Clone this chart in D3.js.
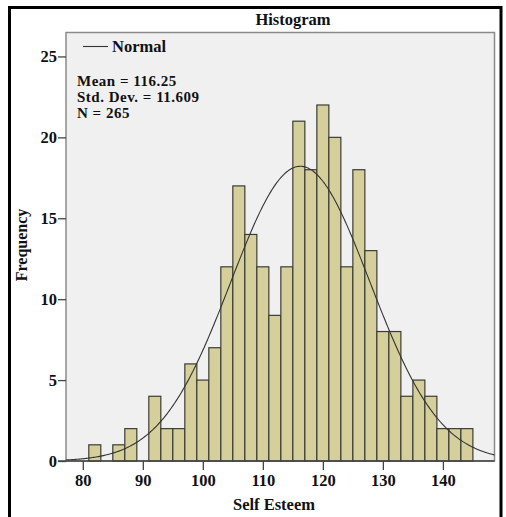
<!DOCTYPE html>
<html>
<head>
<meta charset="utf-8">
<script src="https://cdn.jsdelivr.net/npm/d3@7"></script>
<style>
  html, body { margin: 0; padding: 0; background: #fff; }
  svg text { font-family: "Liberation Serif", "Times New Roman", serif; font-weight: bold; fill: #111; }
</style>
</head>
<body>
<svg id="chart" width="506" height="517"></svg>
<script>
// Bin edges (width 2) and counts of Self Esteem scores
const binStarts = [81, 83, 85, 87, 89, 91, 93, 95, 97, 99, 101, 103, 105, 107, 109, 111,
                   113, 115, 117, 119, 121, 123, 125, 127, 129, 131, 133, 135, 137, 139, 141, 143];
const counts    = [1, 0, 1, 2, 0, 4, 2, 2, 6, 5, 7, 12, 17, 14, 12, 9,
                   12, 21, 18, 22, 20, 12, 18, 13, 8, 8, 4, 5, 4, 2, 2, 2];
const binWidth = 2;
const xTicks = [80, 90, 100, 110, 120, 130, 140];
const yTicks = [0, 5, 10, 15, 20, 25];
const stats = { mean: 116.25, sd: 11.609, n: 265 };
const statLines = ["Mean = 116.25", "Std. Dev. = 11.609", "N = 265"];

const svg = d3.select("#chart");

// outer frame
svg.append("rect")
  .attr("x", 9.5).attr("y", 7.5).attr("width", 491.5).attr("height", 520)
  .attr("fill", "none").attr("stroke", "#000").attr("stroke-width", 3);

const plot = { left: 66, top: 32.5, right: 494.5, bottom: 461 };

const x = d3.scaleLinear().domain([77.2, 148.6]).range([plot.left, plot.right]);
const y = d3.scaleLinear().domain([0, 26.48]).range([plot.bottom, plot.top]);

// plot background
svg.append("rect")
  .attr("x", plot.left).attr("y", plot.top)
  .attr("width", plot.right - plot.left).attr("height", plot.bottom - plot.top)
  .attr("fill", "#f0f0f0").attr("stroke", "#8a8a8a").attr("stroke-width", 1.5);

// bars
svg.append("g").selectAll("rect")
  .data(binStarts.map((s, i) => ({ s, c: counts[i] })).filter(d => d.c > 0))
  .join("rect")
  .attr("x", d => x(d.s))
  .attr("y", d => y(d.c))
  .attr("width", d => x(d.s + binWidth) - x(d.s))
  .attr("height", d => y(0) - y(d.c))
  .attr("fill", "#d5d09b")
  .attr("stroke", "#3c3c34")
  .attr("stroke-width", 1.2);

// fitted normal curve
const scale = stats.n * binWidth / (stats.sd * Math.sqrt(2 * Math.PI));
const pts = d3.range(77.2, 148.61, 0.2).map(v => [v, scale * Math.exp(-0.5 * ((v - stats.mean) / stats.sd) ** 2)]);
svg.append("path")
  .datum(pts)
  .attr("fill", "none").attr("stroke", "#333").attr("stroke-width", 1.1)
  .attr("d", d3.line().x(d => x(d[0])).y(d => y(d[1])));

// axes
const yAxis = svg.append("g")
  .attr("transform", `translate(${plot.left},0)`)
  .call(d3.axisLeft(y).tickValues(yTicks).tickSize(8).tickPadding(1));
const xAxis = svg.append("g")
  .attr("transform", `translate(0,${plot.bottom})`)
  .call(d3.axisBottom(x).tickValues(xTicks).tickSize(9).tickPadding(4));
[xAxis, yAxis].forEach(g => {
  g.select(".domain").remove();
  g.selectAll("line").attr("stroke", "#444").attr("stroke-width", 1.3);
  g.selectAll("text").style("font-size", "16.5px").attr("fill", "#111");
});
// baseline
svg.append("line")
  .attr("x1", plot.left - 8).attr("x2", plot.right)
  .attr("y1", plot.bottom).attr("y2", plot.bottom)
  .attr("stroke", "#444").attr("stroke-width", 1.3);

// titles
svg.append("text").attr("x", 293).attr("y", 25).attr("text-anchor", "middle")
  .style("font-size", "16.5px").text("Histogram");
svg.append("text").attr("x", 274).attr("y", 510).attr("text-anchor", "middle")
  .style("font-size", "16.5px").text("Self Esteem");
svg.append("text").attr("transform", "translate(27,245) rotate(-90)").attr("text-anchor", "middle")
  .style("font-size", "16px").text("Frequency");

// legend
svg.append("line").attr("x1", 83).attr("x2", 108).attr("y1", 46.5).attr("y2", 46.5)
  .attr("stroke", "#333").attr("stroke-width", 1.1);
svg.append("text").attr("x", 112).attr("y", 52).style("font-size", "16.5px").text("Normal");
svg.append("g").selectAll("text").data(statLines).join("text")
  .attr("x", 77).attr("y", (d, i) => 86 + i * 16)
  .style("font-size", "15px").style("letter-spacing", "0.5px").text(d => d);
</script>
</body>
</html>
